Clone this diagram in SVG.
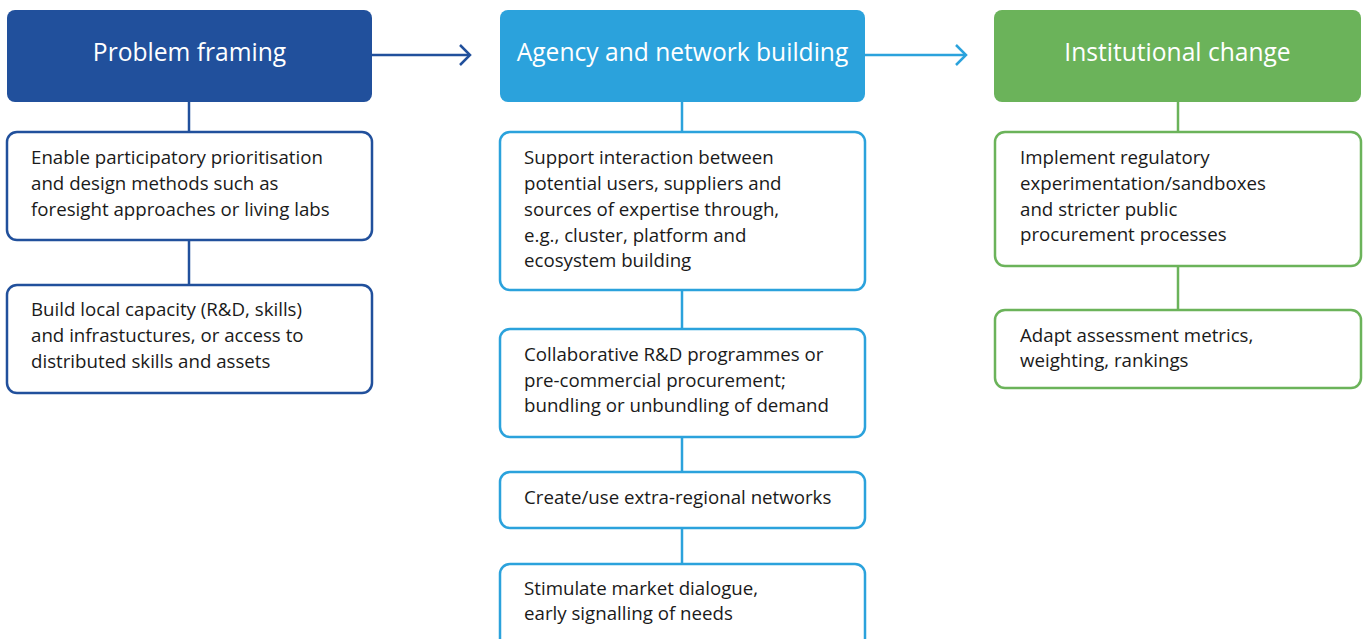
<svg xmlns="http://www.w3.org/2000/svg" width="1368" height="639" viewBox="0 0 1368 639">
<style>
.hd{font-family:"Open Sans","Liberation Sans",sans-serif;font-size:24.6px;fill:#fff;text-anchor:middle}
.tx{font-family:"Open Sans","Liberation Sans",sans-serif;font-size:18.7px;fill:#1a1a1a}
.b1{fill:#fff;stroke:#21509c;stroke-width:2.5}
.b2{fill:#fff;stroke:#2ba2dc;stroke-width:2.5}
.b3{fill:#fff;stroke:#6bb35a;stroke-width:2.5}
</style>
<rect width="1368" height="639" fill="#fff"/>
<g id="connectors" fill="none" stroke-width="2.5">
<g stroke="#21509c">
<line x1="189" y1="102" x2="189" y2="132"/>
<line x1="189" y1="240" x2="189" y2="285"/>
<line x1="372" y1="55" x2="470" y2="55"/>
<polyline points="460,45 470,55 460,65"/>
</g>
<g stroke="#2ba2dc">
<line x1="682" y1="102" x2="682" y2="132"/>
<line x1="682" y1="290" x2="682" y2="329"/>
<line x1="682" y1="437" x2="682" y2="472"/>
<line x1="682" y1="528" x2="682" y2="564"/>
<line x1="865" y1="55" x2="966" y2="55"/>
<polyline points="956,45 966,55 956,65"/>
</g>
<g stroke="#6bb35a">
<line x1="1178" y1="102" x2="1178" y2="132"/>
<line x1="1178" y1="266" x2="1178" y2="310"/>
</g>
</g>
<g id="h1"><rect x="7" y="10" width="365" height="92" rx="8" fill="#21509c"/><text class="hd" x="189.5" y="61">Problem framing</text></g>
<g id="h2"><rect x="500" y="10" width="365" height="92" rx="8" fill="#2ba2dc"/><text class="hd" x="682.5" y="61">Agency and network building</text></g>
<g id="h3"><rect x="994" y="10" width="367" height="92" rx="8" fill="#6bb35a"/><text class="hd" x="1177.5" y="61">Institutional change</text></g>
<g id="n11"><rect class="b1" x="7" y="132" width="365" height="108" rx="10"/>
<text class="tx" x="31" y="164">Enable participatory prioritisation</text>
<text class="tx" x="31" y="190">and design methods such as</text>
<text class="tx" x="31" y="216">foresight approaches or living labs</text></g>
<g id="n12"><rect class="b1" x="7" y="285" width="365" height="108" rx="10"/>
<text class="tx" x="31" y="316">Build local capacity (R&amp;D, skills)</text>
<text class="tx" x="31" y="342">and infrastuctures, or access to</text>
<text class="tx" x="31" y="368">distributed skills and assets</text></g>
<g id="n21"><rect class="b2" x="500" y="132" width="365" height="158" rx="10"/>
<text class="tx" x="524" y="164">Support interaction between</text>
<text class="tx" x="524" y="190">potential users, suppliers and</text>
<text class="tx" x="524" y="216">sources of expertise through,</text>
<text class="tx" x="524" y="242">e.g., cluster, platform and</text>
<text class="tx" x="524" y="267">ecosystem building</text></g>
<g id="n22"><rect class="b2" x="500" y="329" width="365" height="108" rx="10"/>
<text class="tx" x="524" y="361">Collaborative R&amp;D programmes or</text>
<text class="tx" x="524" y="387">pre-commercial procurement;</text>
<text class="tx" x="524" y="412">bundling or unbundling of demand</text></g>
<g id="n23"><rect class="b2" x="500" y="472" width="365" height="56" rx="10"/>
<text class="tx" x="524" y="504">Create/use extra-regional networks</text></g>
<g id="n24"><rect class="b2" x="500" y="564" width="365" height="100" rx="10"/>
<text class="tx" x="524" y="595">Stimulate market dialogue,</text>
<text class="tx" x="524" y="620">early signalling of needs</text></g>
<g id="n31"><rect class="b3" x="995" y="132" width="366" height="134" rx="10"/>
<text class="tx" x="1020" y="164">Implement regulatory</text>
<text class="tx" x="1020" y="190">experimentation/sandboxes</text>
<text class="tx" x="1020" y="216">and stricter public</text>
<text class="tx" x="1020" y="241">procurement processes</text></g>
<g id="n32"><rect class="b3" x="995" y="310" width="366" height="78" rx="10"/>
<text class="tx" x="1020" y="342">Adapt assessment metrics,</text>
<text class="tx" x="1020" y="367">weighting, rankings</text></g>
</svg>
